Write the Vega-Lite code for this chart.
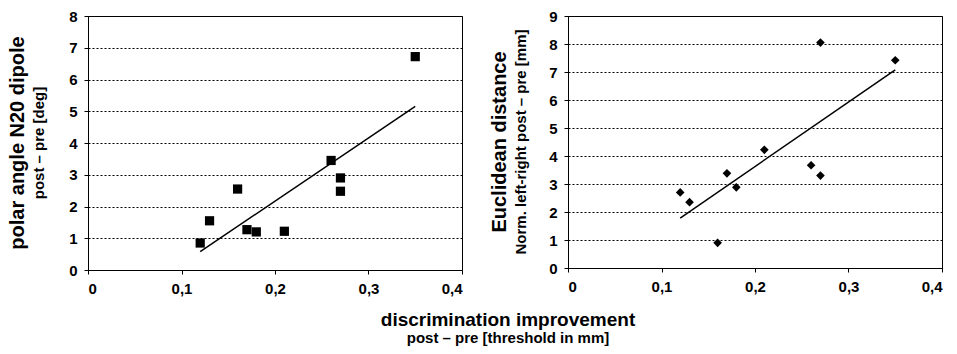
{
  "$schema": "https://vega.github.io/schema/vega-lite/v6.json",
  "background": "white",
  "padding": {"left": 7, "top": 8, "right": 4, "bottom": 4},
  "spacing": 26,
  "title": {
    "text": "discrimination improvement",
    "subtitle": "post – pre [threshold in mm]",
    "orient": "bottom",
    "anchor": "start",
    "align": "center",
    "frame": "group",
    "font": "Liberation Sans",
    "subtitleFont": "Liberation Sans",
    "fontSize": 19,
    "subtitleFontSize": 15,
    "fontWeight": "bold",
    "subtitleFontWeight": "bold",
    "color": "black",
    "subtitleColor": "black",
    "offset": 14,
    "subtitlePadding": 1,
    "dx": 420
  },
  "datasets": {
    "pts": [
      {"x": 0.12, "polar": 0.85, "euclid": 2.7},
      {"x": 0.13, "polar": 1.55, "euclid": 2.35},
      {"x": 0.16, "polar": 2.55, "euclid": 0.9},
      {"x": 0.17, "polar": 1.27, "euclid": 3.38},
      {"x": 0.18, "polar": 1.2, "euclid": 2.88},
      {"x": 0.21, "polar": 1.22, "euclid": 4.22},
      {"x": 0.26, "polar": 3.45, "euclid": 3.67},
      {"x": 0.27, "polar": 2.9, "euclid": 3.3},
      {"x": 0.27, "polar": 2.48, "euclid": 8.05},
      {"x": 0.35, "polar": 6.72, "euclid": 7.42}
    ],
    "fit": [
      {"x": 0.12, "polar": 0.58, "euclid": 1.78},
      {"x": 0.35, "polar": 5.15, "euclid": 7.08}
    ]
  },
  "config": {
    "font": "Liberation Sans",
    "view": {"stroke": "black", "strokeWidth": 1, "fill": "white"},
    "axis": {
      "labelFont": "Liberation Sans",
      "labelFontSize": 15,
      "labelFontWeight": "bold",
      "labelColor": "black",
      "domainColor": "black",
      "tickColor": "black",
      "tickSize": 4,
      "labelPadding": 7
    },
    "title": {
      "font": "Liberation Sans",
      "subtitleFont": "Liberation Sans",
      "fontSize": 20,
      "subtitleFontSize": 15,
      "fontWeight": "bold",
      "subtitleFontWeight": "bold",
      "color": "black",
      "subtitleColor": "black"
    }
  },
  "hconcat": [
    {
      "width": 374,
      "height": 254,
      "title": {
        "text": "polar angle N20 dipole",
        "subtitle": "post – pre [deg]",
        "orient": "left",
        "anchor": "middle",
        "offset": 22,
        "subtitlePadding": 4
      },
      "encoding": {
        "x": {"field": "x", "type": "quantitative", "scale": {"domain": [0, 0.4]},
          "axis": {"values": [0, 0.1, 0.2, 0.3, 0.4], "title": null, "grid": false,
            "labelExpr": "datum.value == 0 ? '0' : replace(format(datum.value, '.1f'), '.', ',')"}},
        "y": {"field": "polar", "type": "quantitative", "scale": {"domain": [0, 8]},
          "axis": {"values": [0, 1, 2, 3, 4, 5, 6, 7, 8], "title": null, "grid": true,
            "gridColor": "black", "gridDash": [2, 2], "gridWidth": 1, "gridOpacity": 1}}
      },
      "layer": [
        {
          "data": {"name": "pts"},
          "mark": {"type": "point", "shape": "square", "filled": true, "color": "black", "size": 85, "opacity": 1}
        },
        {
          "data": {"name": "fit"},
          "mark": {"type": "line", "color": "black", "strokeWidth": 1.5}
        }
      ]
    },
    {
      "width": 374,
      "height": 252,
      "title": {
        "text": "Euclidean distance",
        "subtitle": "Norm. left-right  post – pre [mm]",
        "orient": "left",
        "anchor": "middle",
        "offset": 20,
        "subtitlePadding": 4
      },
      "encoding": {
        "x": {"field": "x", "type": "quantitative", "scale": {"domain": [0, 0.4]},
          "axis": {"values": [0, 0.1, 0.2, 0.3, 0.4], "title": null, "grid": false,
            "labelExpr": "datum.value == 0 ? '0' : replace(format(datum.value, '.1f'), '.', ',')"}},
        "y": {"field": "euclid", "type": "quantitative", "scale": {"domain": [0, 9]},
          "axis": {"values": [0, 1, 2, 3, 4, 5, 6, 7, 8, 9], "title": null, "grid": true,
            "gridColor": "black", "gridDash": [2, 2], "gridWidth": 1, "gridOpacity": 1}}
      },
      "layer": [
        {
          "data": {"name": "pts"},
          "mark": {"type": "point", "shape": "diamond", "filled": true, "color": "black", "size": 75, "opacity": 1}
        },
        {
          "data": {"name": "fit"},
          "mark": {"type": "line", "color": "black", "strokeWidth": 1.5}
        }
      ]
    }
  ]
}
